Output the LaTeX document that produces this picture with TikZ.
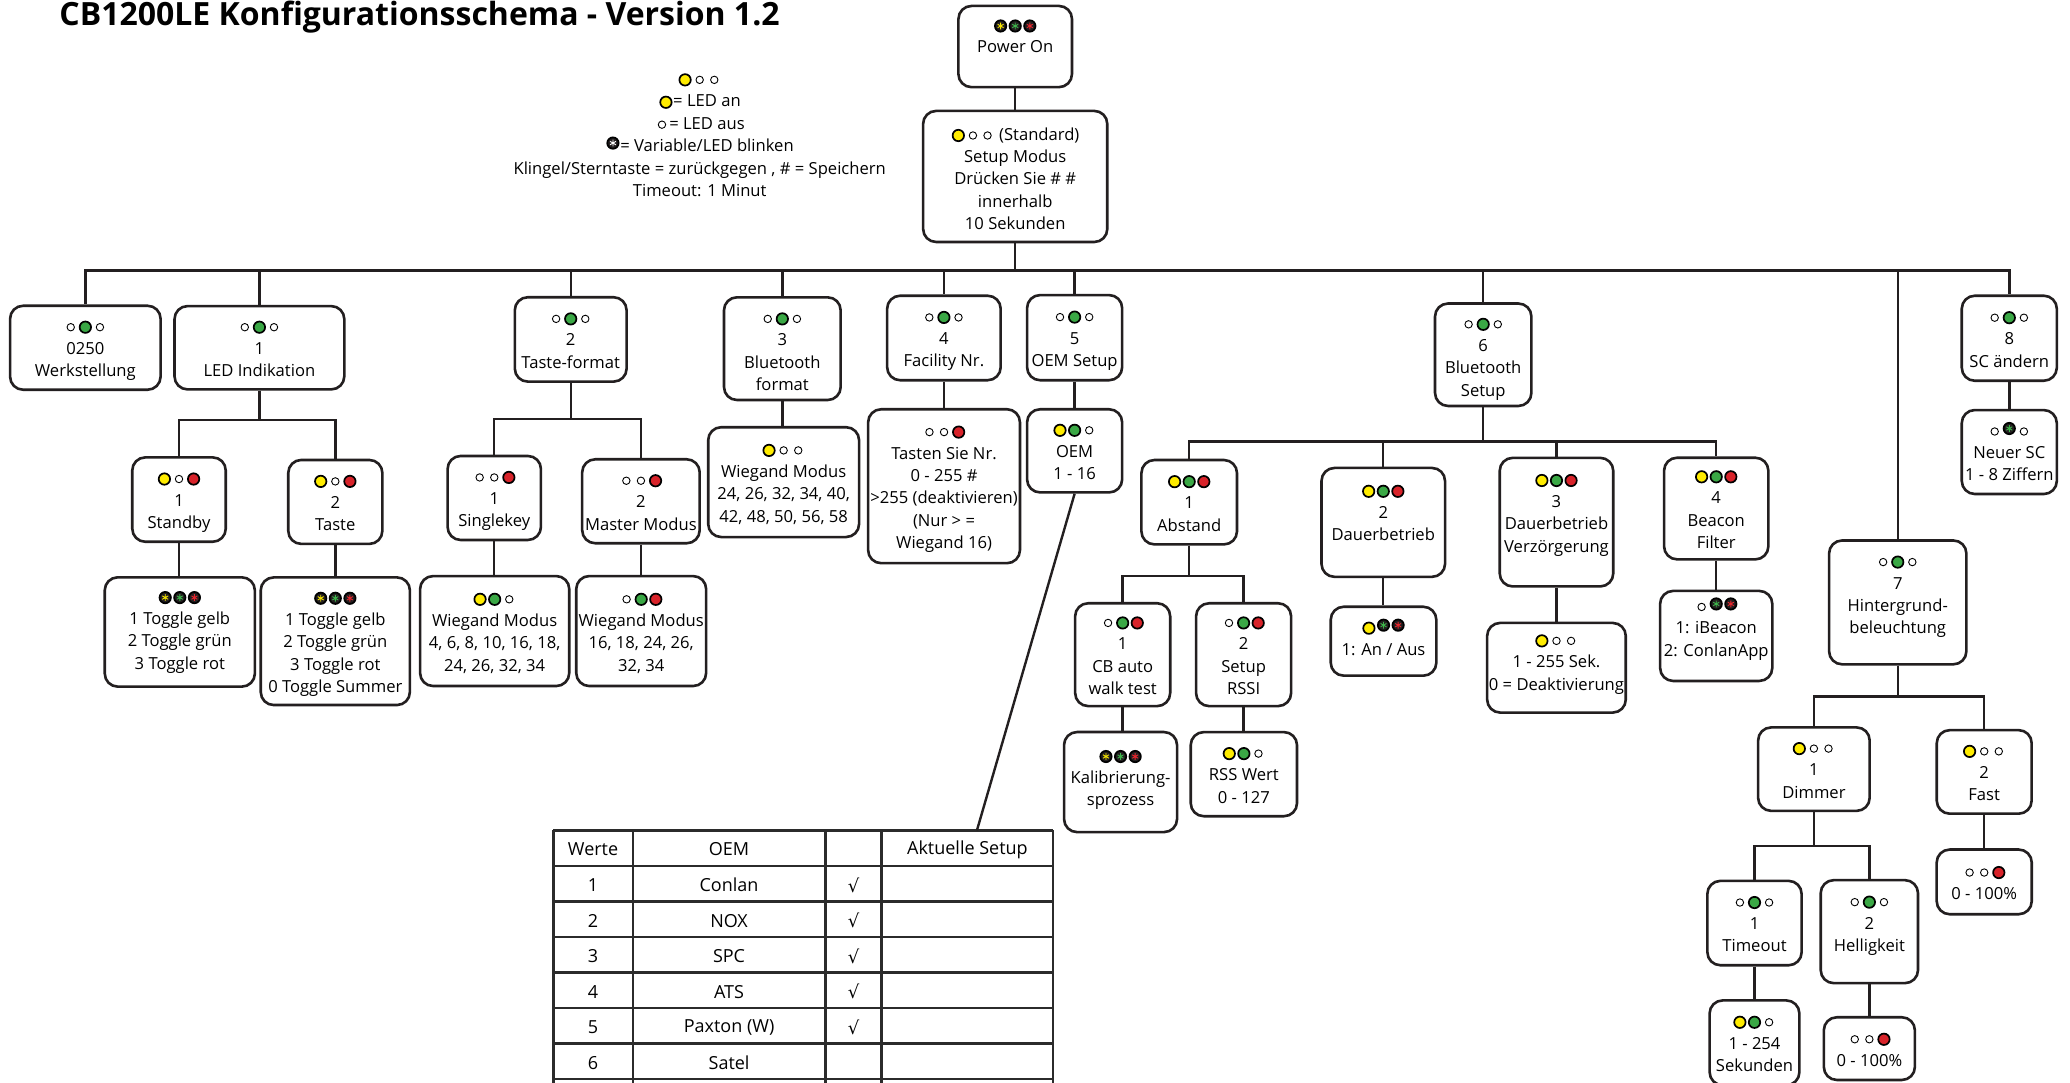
\documentclass[tikz,border=0pt]{standalone}
\usepackage{fontspec}
\setmainfont{Open Sans}
\newfontfamily\symfont{DejaVu Sans}

\definecolor{ledyellow}{HTML}{FFEC00}
\definecolor{ledgreen}{HTML}{3AA845}
\definecolor{ledred}{HTML}{D8232A}
\definecolor{ledblack}{HTML}{231F20}
\definecolor{staryellow}{HTML}{F5E400}
\definecolor{stargreen}{HTML}{3DB54A}
\definecolor{starred}{HTML}{E8262D}
\definecolor{linec}{HTML}{231F20}
\definecolor{gridc}{HTML}{2B2B2B}

\newlength{\px}
\setlength{\px}{0.6601pt}

\newcommand{\ledon}[1]{\tikz[baseline={(0,-2.3pt)}]{\path (-3.65pt,0) (3.65pt,0);\draw[line width=0.85pt,fill=#1] (0,0) circle (2.85pt);}}
\newcommand{\ledoff}{\tikz[baseline={(0,-2.3pt)}]{\path (-3.65pt,0) (3.65pt,0);\draw[line width=0.45pt] (0,0) circle (1.85pt);}}
\newcommand{\ledblink}[2][0pt]{\tikz[baseline={(0,-2.3pt-#1)}]{\path (-3.65pt,0) (3.65pt,0);\draw[line width=0.85pt,fill=ledblack] (0,0) circle (2.85pt);\draw[#2,line width=0.45pt] (90:1.7pt) -- (270:1.7pt) (30:1.7pt) -- (210:1.7pt) (150:1.7pt) -- (330:1.7pt);}}
\newcommand{\inbox}[4][-3]{\parbox[c][#3\px][c]{#2\px}{\centering\makebox[\linewidth]{\begin{tabular}{@{}c@{}}#4\end{tabular}}\par\vspace{#1\px}}}
\newcommand{\gon}{\ledoff\ledon{ledgreen}\ledoff}
\newcommand{\ygr}{\ledon{ledyellow}\ledon{ledgreen}\ledon{ledred}}
\newcommand{\blinkall}{\ledblink{staryellow}\ledblink{stargreen}\ledblink{starred}}

\begin{document}
\begin{tikzpicture}[
	x=0.6601pt, y=-0.6601pt,
	font=\fontsize{8.3}{11.2}\selectfont,
	box/.style={draw=linec, line width=1.3pt, rounded corners=6.5pt, fill=white, inner sep=0pt},
	link/.style={draw=linec, line width=1.2pt},
	grid/.style={draw=gridc, line width=1.4pt},
	cell/.style={font=\fontsize{9}{11}\selectfont}
	]
	\useasboundingbox (0,0) rectangle (1568,820);
	\clip (0,0) rectangle (1568,820);
	\fill[white] (0,0) rectangle (1568,820);

	\node[anchor=base west, font=\fontsize{16}{19}\selectfont\bfseries, inner sep=0pt] (title) at (44.7,19) {CB1200LE Konfigurationsschema - Version 1.2};
	\node[inner sep=0pt] (legend) at (530,103) {\begin{tabular}{@{}c@{}}\ledon{ledyellow}\ledoff\ledoff\\\ledon{ledyellow}= LED an\\\ledoff= LED aus\\\ledblink[2pt]{white}= Variable/LED blinken\\Klingel/Sterntaste = zurückgegen , \# = Speichern\\Timeout: 1 Minut\end{tabular}};

	\node[box] (pwr) at (769,35.25) {\inbox[14]{86}{61.5}{\blinkall\\Power On}};
	\node[box] (setup) at (769,133.65) {\inbox[-6]{139.5}{99.3}{\ledon{ledyellow}\ledoff\ledoff{} (Standard)\\Setup Modus\\Drücken Sie \# \#\\innerhalb\\10 Sekunden}};

	\node[box] (werk) at (64.65,263.4) {\inbox{114}{63.6}{\gon\\0250\\Werkstellung}};
	\node[box] (ledind) at (196.5,263.4) {\inbox{128.6}{63.1}{\gon\\1\\LED Indikation}};
	\node[box] (tastef) at (432.3,257.1) {\inbox{84.7}{63.9}{\gon\\2\\Taste-format}};
	\node[box] (btf) at (592.6,264.1) {\inbox[-6]{88.4}{77.8}{\gon\\3\\Bluetooth\\format}};
	\node[box] (fac) at (715,256) {\inbox{86}{64}{\gon\\4\\Facility Nr.}};
	\node[box] (oem) at (814,255.75) {\inbox{72}{64.5}{\gon\\5\\OEM Setup}};
	\node[box] (btsetup) at (1123.5,268.7) {\inbox[-5]{73}{77.6}{\gon\\6\\Bluetooth\\Setup}};
	\node[box] (hint) at (1437.5,456.3) {\inbox[10]{104}{93.8}{\gon\\7\\Hintergrund-\\beleuchtung}};
	\node[box] (sc) at (1522,256.2) {\inbox{72}{64.4}{\gon\\8\\SC ändern}};

	\node[box] (standby) at (135.6,378.4) {\inbox{70.8}{63.9}{\ledon{ledyellow}\ledoff\ledon{ledred}\\1\\Standby}};
	\node[box] (taste) at (254,380.2) {\inbox{71.3}{63.6}{\ledon{ledyellow}\ledoff\ledon{ledred}\\2\\Taste}};
	\node[box] (standbyc) at (136.2,478.7) {\inbox[1]{113.7}{82.8}{\blinkall\\1 Toggle gelb\\2 Toggle grün\\3 Toggle rot}};
	\node[box] (tastec) at (254,485.7) {\inbox{113}{96.7}{\blinkall\\1 Toggle gelb\\2 Toggle grün\\3 Toggle rot\\0 Toggle Summer}};

	\node[box] (single) at (374.4,377.2) {\inbox{70.7}{63.6}{\ledoff\ledoff\ledon{ledred}\\1\\Singlekey}};
	\node[box] (master) at (485.5,379.7) {\inbox{89}{63.6}{\ledoff\ledoff\ledon{ledred}\\2\\Master Modus}};
	\node[box] (singlec) at (374.7,478) {\inbox{113}{83.3}{\ledon{ledyellow}\ledon{ledgreen}\ledoff\\Wiegand Modus\\4, 6, 8, 10, 16, 18,\\24, 26, 32, 34}};
	\node[box] (masterc) at (485.7,478) {\inbox{98.4}{83.3}{\ledoff\ledon{ledgreen}\ledon{ledred}\\Wiegand Modus\\16, 18, 24, 26,\\32, 34}};

	\node[box] (btfc) at (593.6,365.2) {\inbox{114.3}{83.2}{\ledon{ledyellow}\ledoff\ledoff\\Wiegand Modus\\24, 26, 32, 34, 40,\\42, 48, 50, 56, 58}};
	\node[box] (facc) at (715.1,368.3) {\inbox{115}{116.6}{\ledoff\ledoff\ledon{ledred}\\Tasten Sie Nr.\\0 - 255 \#\\>255 (deaktivieren)\\(Nur > =\\Wiegand 16)}};
	\node[box] (oemc) at (814,341.5) {\inbox{72}{63}{\ledon{ledyellow}\ledon{ledgreen}\ledoff\\OEM\\1 - 16}};

	\node[box] (abst) at (900.8,380.4) {\inbox{72.4}{63.9}{\ygr\\1\\Abstand}};
	\node[box] (dauer) at (1047.8,395.7) {\inbox[13]{93.6}{82.5}{\ygr\\2\\Dauerbetrieb}};
	\node[box] (verz) at (1179,395.5) {\inbox[12]{86}{97.4}{\ygr\\3\\Dauerbetrieb\\Verzörgerung}};
	\node[box] (beacon) at (1300,385.2) {\inbox{79}{77}{\ygr\\4\\Beacon\\Filter}};
	\node[box] (neuersc) at (1522,342.4) {\inbox{72}{63.6}{\ledoff\ledblink[1.5pt]{stargreen}\ledoff\\Neuer SC\\1 - 8 Ziffern}};

	\node[box] (cbauto) at (850.4,495.9) {\inbox{72}{77.9}{\ledoff\ledon{ledgreen}\ledon{ledred}\\1\\CB auto\\walk test}};
	\node[box] (rssi) at (942,495.9) {\inbox{72}{77.9}{\ledoff\ledon{ledgreen}\ledon{ledred}\\2\\Setup\\RSSI}};
	\node[box] (dauerc) at (1048,485.7) {\inbox[2.6]{80}{52.2}{\ledon{ledyellow}\ledblink[1.5pt]{stargreen}\ledblink[1.5pt]{starred}\\1: An / Aus}};
	\node[box] (verzc) at (1179,505.8) {\inbox[6.6]{105}{67.9}{\ledon{ledyellow}\ledoff\ledoff\\1 - 255 Sek.\\0 = Deaktivierung}};
	\node[box] (beaconc) at (1300,481.7) {\inbox[9.8]{85}{68.2}{\ledoff\ledblink[1.5pt]{stargreen}\ledblink[1.5pt]{starred}\\1: iBeacon\\2: ConlanApp}};
	\node[box] (kalib) at (848.8,592.4) {\inbox[4.6]{85.6}{75.8}{\blinkall\\Kalibrierung-\\sprozess}};
	\node[box] (rss) at (942.2,586.4) {\inbox{80.5}{63.7}{\ledon{ledyellow}\ledon{ledgreen}\ledoff\\RSS Wert\\0 - 127}};

	\node[box] (dimmer) at (1374,582.6) {\inbox{84.5}{63.2}{\ledon{ledyellow}\ledoff\ledoff\\1\\Dimmer}};
	\node[box] (fast) at (1503,584.7) {\inbox{71.9}{63.3}{\ledon{ledyellow}\ledoff\ledoff\\2\\Fast}};
	\node[box] (timeout) at (1329,699.2) {\inbox{71.4}{63.9}{\gon\\1\\Timeout}};
	\node[box] (hell) at (1416,705.7) {\inbox[10.6]{73.7}{78}{\gon\\2\\Helligkeit}};
	\node[box] (fastc) at (1503,668) {\inbox{72}{49}{\ledoff\ledoff\ledon{ledred}\\0 - 100\%}};
	\node[box] (timeoutc) at (1329,789.9) {\inbox{68}{64.2}{\ledon{ledyellow}\ledon{ledgreen}\ledoff\\1 - 254\\Sekunden}};
	\node[box] (hellc) at (1416,794.3) {\inbox{69}{47.5}{\ledoff\ledoff\ledon{ledred}\\0 - 100\%}};

	\draw[link] (pwr) -- (setup);
	\foreach \c in {werk,ledind,tastef,btf,fac,oem,btsetup,hint,sc}
		\draw[link] (setup.south) -- ++(0,20.7) -| (\c.north);
	\foreach \c in {standby,taste}
		\draw[link] (ledind.south) -- ++(0,22) -| (\c.north);
	\foreach \c in {single,master}
		\draw[link] (tastef.south) -- ++(0,27.3) -| (\c.north);
	\foreach \c in {abst,dauer,verz,beacon}
		\draw[link] (btsetup.south) -- ++(0,25.8) -| (\c.north);
	\foreach \c in {cbauto,rssi}
		\draw[link] (abst.south) -- ++(0,23) -| (\c.north);
	\foreach \c in {dimmer,fast}
		\draw[link] (hint.south) -- ++(0,23.4) -| (\c.north);
	\foreach \c in {timeout,hell}
		\draw[link] (dimmer.south) -- ++(0,25.8) -| (\c.north);
	\foreach \p/\c in {standby/standbyc,taste/tastec,single/singlec,master/masterc,btf/btfc,fac/facc,oem/oemc,sc/neuersc,cbauto/kalib,rssi/rss,dauer/dauerc,verz/verzc,beacon/beaconc,fast/fastc,timeout/timeoutc,hell/hellc}
		\draw[link] (\p.south) -- (\p.south |- \c.north);

	\foreach \xx in {419,479.5,625,668,797.6}
		\draw[grid] (\xx,629) -- (\xx,830);
	\foreach \k in {0,...,7}
		\draw[grid] (419,629+26.9*\k) -- (797.6,629+26.9*\k);
	\node[cell] (hwert) at (449.25,643.5) {Werte};
	\node[cell] (hoem) at (552.25,643.5) {OEM};
	\node[cell] (hsetup) at (732.8,643.5) {Aktuelle Setup};
	\foreach \i/\name/\chk in {1/Conlan/1,2/NOX/1,3/SPC/1,4/ATS/1,5/{Paxton (W)}/1,6/Satel/0} {
		\node[cell] (wert\i) at (449.25,643.5+26.9*\i) {\i};
		\node[cell] (tname\i) at (552.25,643.5+26.9*\i) {\name};
		\ifnum\chk=1 \node[cell] (chk\i) at (646.5,643.5+26.9*\i) {{\symfont √}};\fi
	}
	\coordinate (tabtop) at (740,629);
	\draw[link] (oemc.south) -- (tabtop);
\end{tikzpicture}
\end{document}
